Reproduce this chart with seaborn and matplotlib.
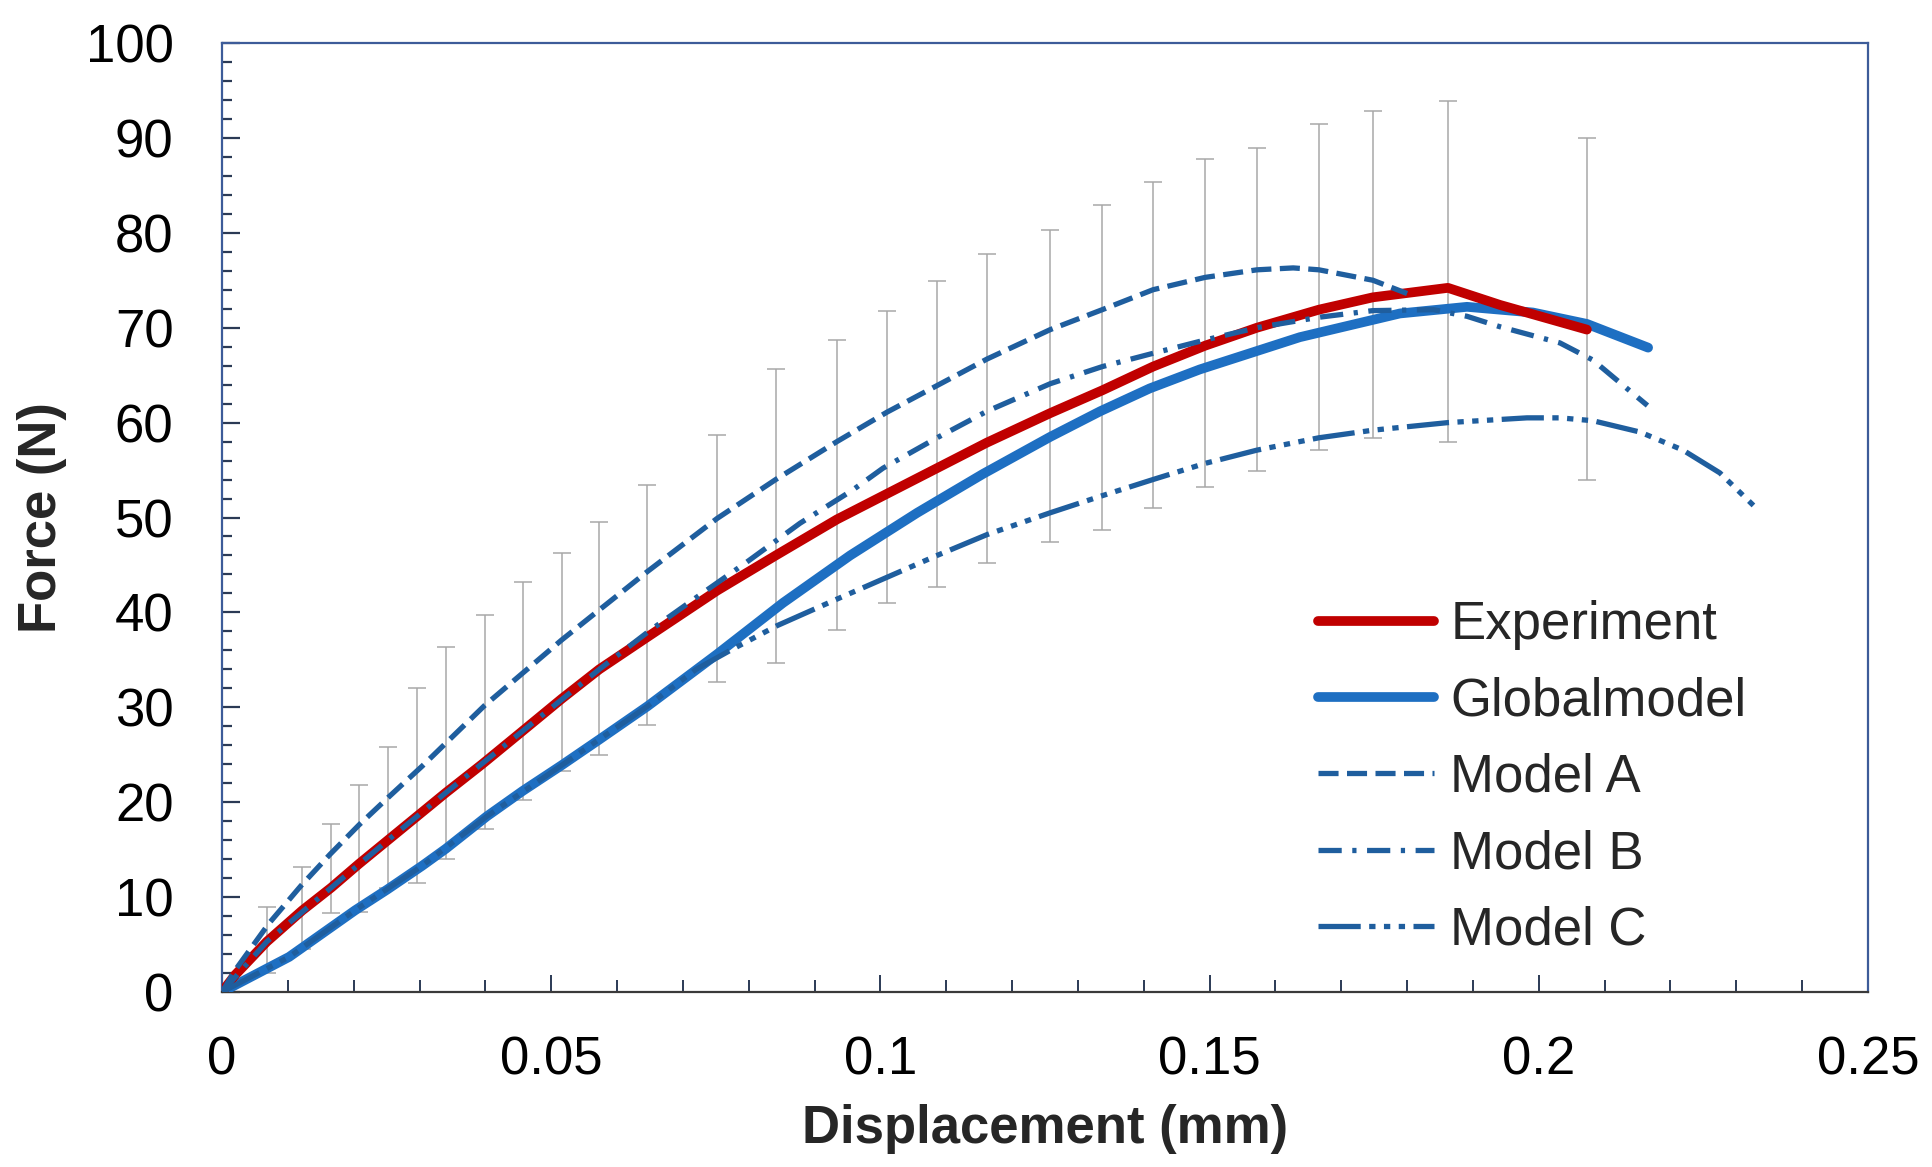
import numpy as np
import matplotlib
matplotlib.use("Agg")
import matplotlib.pyplot as plt
from matplotlib.ticker import MultipleLocator, FixedLocator
import seaborn as sns

# ---------------- data ----------------
exp_d = [0, 0.002, 0.0068, 0.0122, 0.0166, 0.0208, 0.0252, 0.0296, 0.034, 0.0395,
         0.0453, 0.0516, 0.0573, 0.0646, 0.0752, 0.0841, 0.0934, 0.1010, 0.1086,
         0.1162, 0.1258, 0.1337, 0.1414, 0.1493, 0.1572, 0.1666, 0.1748, 0.1862,
         0.1941, 0.2073]
exp_F = [0, 1.8, 5.3, 8.6, 11.0, 13.5, 16.0, 18.5, 21.0, 24.0,
         27.3, 30.9, 34.0, 37.4, 42.3, 46.0, 49.8, 52.5, 55.2,
         57.9, 61.0, 63.4, 65.9, 68.1, 70.0, 71.9, 73.2, 74.2,
         72.4, 69.8]

glob_d = [0, 0.0102, 0.0202, 0.0251, 0.0304, 0.034, 0.0402, 0.0457, 0.0516, 0.0573,
          0.0646, 0.0752, 0.0852, 0.0954, 0.1056, 0.1156, 0.1258, 0.1334, 0.1409,
          0.1485, 0.1637, 0.1789, 0.1891, 0.1991, 0.2073, 0.2166]
glob_F = [0, 3.7, 8.6, 10.8, 13.3, 15.1, 18.5, 21.2, 23.9, 26.6,
          30.1, 35.6, 41.0, 46.0, 50.5, 54.6, 58.5, 61.2, 63.6,
          65.6, 69.0, 71.5, 72.2, 71.6, 70.4, 67.9]

a_d = [0, 0.002, 0.0071, 0.012, 0.0164, 0.0208, 0.0254, 0.0304, 0.0399, 0.0516,
       0.0646, 0.0752, 0.0841, 0.0934, 0.101, 0.1086, 0.1162, 0.1258, 0.1337,
       0.1414, 0.1493, 0.1572, 0.1627, 0.1666, 0.1748, 0.1800]
a_F = [0, 2.3, 7.2, 11.2, 14.5, 17.6, 20.6, 23.8, 30.2, 37.1,
       44.3, 49.9, 54.0, 58.0, 61.1, 63.9, 66.7, 69.8, 71.9,
       74.0, 75.3, 76.1, 76.3, 76.1, 75.0, 73.6]

b_d = [0, 0.0068, 0.0166, 0.0252, 0.034, 0.0453, 0.0573, 0.065, 0.0721, 0.0797,
       0.0878, 0.0958, 0.1004, 0.1086, 0.1162, 0.1258, 0.1337, 0.1414, 0.1493,
       0.1572, 0.1666, 0.1748, 0.184, 0.1891, 0.1941, 0.2032, 0.2082, 0.2113, 0.2165]
b_F = [0, 5.3, 11.0, 16.0, 21.0, 27.3, 34.0, 38.1, 41.6, 45.3,
       49.4, 52.9, 55.2, 58.4, 61.2, 64.1, 65.9, 67.3, 68.7,
       70.0, 71.1, 71.8, 71.9, 71.2, 70.1, 68.4, 66.6, 64.8, 61.8]

c_d = [0, 0.0102, 0.0202, 0.0304, 0.0402, 0.0516, 0.0646, 0.0720, 0.0772, 0.0843,
       0.0934, 0.101, 0.1086, 0.1162, 0.1258, 0.1337, 0.1414, 0.1493, 0.1572,
       0.1666, 0.1748, 0.1862, 0.1982, 0.2032, 0.2082, 0.2154, 0.2219, 0.2275, 0.2333]
c_F = [0, 3.7, 8.6, 13.3, 18.5, 23.9, 30.1, 34.0, 36.0, 38.6,
       41.4, 43.7, 46.0, 48.2, 50.5, 52.3, 54.0, 55.7, 57.1,
       58.4, 59.2, 60.0, 60.5, 60.5, 60.2, 59.0, 57.1, 54.7, 50.8]

eb_d = [0.0068, 0.0122, 0.0166, 0.0208, 0.0252, 0.0296, 0.034, 0.0399, 0.0457,
        0.0516, 0.0573, 0.0646, 0.0752, 0.0841, 0.0934, 0.1010, 0.1086, 0.1162,
        0.1258, 0.1337, 0.1414, 0.1493, 0.1572, 0.1666, 0.1748, 0.1862, 0.2073]
eb_hi = [9.0, 13.2, 17.7, 21.8, 25.8, 32.0, 36.4, 39.7, 43.2,
         46.3, 49.5, 53.4, 58.7, 65.6, 68.7, 71.8, 74.9, 77.8,
         80.3, 82.9, 85.4, 87.8, 88.9, 91.5, 92.8, 93.9, 90.0]
eb_lo = [2.0, 4.5, 8.3, 8.4, 11.0, 11.5, 14.0, 17.2, 20.2,
         23.3, 25.0, 28.1, 32.7, 34.7, 38.1, 41.0, 42.7, 45.2,
         47.4, 48.7, 51.0, 53.2, 54.9, 57.1, 58.4, 58.0, 54.0]

x_ticks = [0, 0.05, 0.1, 0.15, 0.2, 0.25]
x_ticklabels = ["0", "0.05", "0.1", "0.15", "0.2", "0.25"]
y_ticks = [0, 10, 20, 30, 40, 50, 60, 70, 80, 90, 100]

# ---------------- style ----------------
sns.set_theme(style="white")
plt.rcParams["font.family"] = ["Liberation Sans", "DejaVu Sans"]

RED = "#C00000"
GBLUE = "#1E6FC2"
MBLUE = "#1F5E9E"
SPINE = "#3D5C99"
TICKC = "#2B3A55"
FS = 38

fig = plt.figure(figsize=(19.33, 11.67), dpi=100)
ax = fig.add_axes([222 / 1933, 1 - 992 / 1167, 1646 / 1933, 949 / 1167])

# error bars
lo = np.array(eb_lo)
hi = np.array(eb_hi)
ax.errorbar(eb_d, (lo + hi) / 2, yerr=(hi - lo) / 2, fmt="none",
            ecolor="#A8A8A8", elinewidth=1.1, capsize=6.5, capthick=1.1, zorder=1)

common = dict(ax=ax, sort=False, estimator=None, errorbar=None)
sns.lineplot(x=exp_d, y=exp_F, color=RED, lw=7, label="Experiment", zorder=4,
             solid_joinstyle="round", **common)
sns.lineplot(x=glob_d, y=glob_F, color=GBLUE, lw=7, label="Globalmodel", zorder=3,
             solid_joinstyle="round", **common)
sns.lineplot(x=a_d, y=a_F, color=MBLUE, lw=3.8, linestyle=(0, (3.8, 1.6)),
             label="Model A", zorder=5, **common)
sns.lineplot(x=b_d, y=b_F, color=MBLUE, lw=3.8, linestyle=(0, (4.4, 2.0, 0.8, 2.0)),
             label="Model B", zorder=5, **common)
sns.lineplot(x=c_d, y=c_F, color=MBLUE, lw=3.8,
             linestyle=(0, (8, 1.6, 1.2, 1.6, 1.2, 1.6, 1.2, 1.6)),
             label="Model C", zorder=5, **common)

ax.set_xlim(0, 0.25)
ax.set_ylim(0, 100)
ax.xaxis.set_major_locator(FixedLocator(x_ticks))
ax.set_xticklabels(x_ticklabels)
ax.xaxis.set_minor_locator(MultipleLocator(0.01))
ax.yaxis.set_major_locator(FixedLocator(y_ticks))
ax.yaxis.set_minor_locator(MultipleLocator(2))

ax.tick_params(axis="both", which="both", direction="in", colors=TICKC,
               labelcolor="black", labelsize=FS)
ax.tick_params(axis="y", which="major", length=13, width=1.6, pad=35,
               left=True, right=False)
ax.tick_params(axis="y", which="minor", length=7.5, width=1.6, left=True, right=False)
ax.tick_params(axis="x", which="major", length=12, width=1.4, pad=31,
               bottom=True, top=False)
ax.tick_params(axis="x", which="minor", length=9, width=1.4, bottom=True, top=False)

for side in ["left", "top", "right"]:
    ax.spines[side].set_color(SPINE)
    ax.spines[side].set_linewidth(1.6)
ax.spines["bottom"].set_color("#3A3A3A")
ax.spines["bottom"].set_linewidth(1.6)

ax.set_xlabel("Displacement (mm)", fontsize=FS, fontweight="bold")
ax.set_ylabel("Force (N)", fontsize=FS, fontweight="bold")
ax.xaxis.set_label_coords(0.5, -0.118)
ax.yaxis.set_label_coords(-0.094, 0.5)

leg = ax.legend(loc="upper left", bbox_to_anchor=(0.666, 0.413), frameon=False,
                fontsize=FS, handlelength=2.2, handletextpad=0.3,
                labelspacing=0.5, borderpad=0, borderaxespad=0)

fig.savefig("out.png", dpi=100, facecolor="white")
